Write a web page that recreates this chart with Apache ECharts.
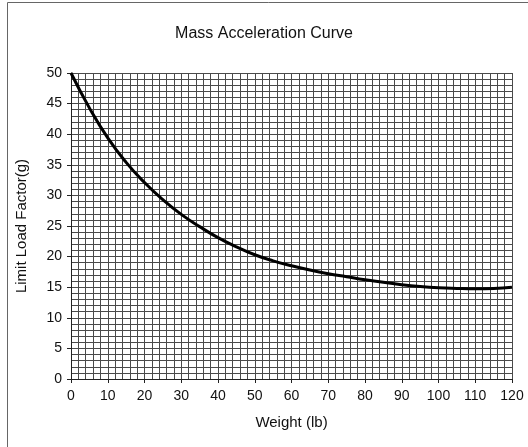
<!DOCTYPE html>
<html>
<head>
<meta charset="utf-8">
<script src="https://cdn.jsdelivr.net/npm/echarts@6/dist/echarts.min.js"></script>
<style>
html, body { margin: 0; padding: 0; background: #fff; }
#chart { width: 528px; height: 447px; }
</style>
</head>
<body>
<div id="chart"></div>
<script>
// weight (lb) vs limit load factor (g)
var weights = [0, 5, 10, 15, 20, 25, 30, 35, 40, 45, 50, 55, 60, 65, 70, 75, 80, 85, 90, 95, 100, 105, 110, 115, 120]
var loadFactors = [50, 44.3, 39.4, 35.4, 32.1, 29.3, 26.9, 24.9, 23.1, 21.6, 20.3, 19.3, 18.5, 17.8, 17.2, 16.7, 16.2, 15.8, 15.4, 15.1, 14.9, 14.8, 14.75, 14.8, 15.0]

var xTicks = [0, 10, 20, 30, 40, 50, 60, 70, 80, 90, 100, 110, 120]
var yTicks = [0, 5, 10, 15, 20, 25, 30, 35, 40, 45, 50]

var points = weights.map(function(w, i) { return [w, loadFactors[i]] })

var chart = echarts.init(document.getElementById('chart'))

var gridLine = { show: true, lineStyle: { color: '#4a4a4a', width: 1 } }
var labelFont = { color: '#111', fontSize: 14, fontFamily: 'Liberation Sans, Arial, sans-serif' }
var nameFont = { color: '#111', fontSize: 15, fontFamily: 'Liberation Sans, Arial, sans-serif' }

chart.setOption({
    animation: false,
    backgroundColor: '#fff',
    title: {
        text: 'Mass Acceleration Curve',
        left: 'center',
        top: 21,
        textStyle: { fontSize: 16, fontWeight: 'normal', color: '#111', fontFamily: 'Liberation Sans, Arial, sans-serif' }
    },
    graphic: [{
        type: 'rect',
        shape: { x: 7.5, y: 2.5, width: 540, height: 460 },
        style: { fill: 'none', stroke: '#666', lineWidth: 1 },
        silent: true
    }],
    grid: { left: 71, right: 16, top: 73, bottom: 68 },
    xAxis: {
        type: 'value',
        min: xTicks[0],
        max: xTicks[xTicks.length - 1],
        interval: 10,
        name: 'Weight (lb)',
        nameLocation: 'middle',
        nameGap: 36,
        nameTextStyle: nameFont,
        axisLine: { show: true, lineStyle: { color: '#222', width: 1 } },
        axisTick: { show: true, length: 4, inside: false, lineStyle: { color: '#222' } },
        axisLabel: Object.assign({ margin: 10 }, labelFont),
        splitLine: gridLine,
        minorTick: { show: false, splitNumber: 5 },
        minorSplitLine: gridLine
    },
    yAxis: {
        type: 'value',
        min: yTicks[0],
        max: yTicks[yTicks.length - 1],
        interval: 5,
        name: 'Limit Load Factor(g)',
        nameLocation: 'middle',
        nameGap: 42,
        nameTextStyle: nameFont,
        axisLine: { show: true, lineStyle: { color: '#222', width: 1 } },
        axisTick: { show: true, length: 4, inside: false, lineStyle: { color: '#222' } },
        axisLabel: Object.assign({ margin: 9 }, labelFont),
        splitLine: gridLine,
        minorTick: { show: false, splitNumber: 5 },
        minorSplitLine: gridLine
    },
    series: [{
        type: 'line',
        data: points,
        smooth: true,
        showSymbol: false,
        lineStyle: { color: '#000', width: 3 }
    }]
})
</script>
</body>
</html>
